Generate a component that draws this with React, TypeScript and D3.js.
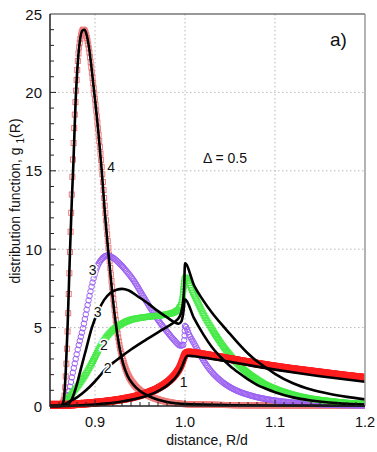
import { useEffect, useRef } from 'react';
import * as d3 from 'd3';

type Pt = [number, number];

// curve 4: simulation (open squares) and theory (black line)
const sim4: Pt[] = [
  [0.85, 0.02], [0.862, 0.05], [0.8655, 0.4], [0.868, 2.5], [0.8705, 6.5], [0.8728, 11.0],
  [0.8748, 14.5], [0.8768, 17.6], [0.879, 20.2], [0.8815, 22.4], [0.884, 23.5], [0.887, 24.0],
  [0.8895, 23.8], [0.892, 23.2], [0.8975, 20.8], [0.9035, 17.6], [0.9075, 15.2], [0.9115, 12.3],
  [0.9155, 9.7], [0.9195, 7.3], [0.9235, 5.3], [0.9275, 3.8], [0.932, 2.75], [0.937, 1.95],
  [0.943, 1.4], [0.951, 0.95], [0.961, 0.62], [0.971, 0.4], [0.981, 0.26], [0.991, 0.17],
  [1.0, 0.12], [1.05, 0.06], [1.1, 0.04], [1.2, 0.03],
];
const theory4: Pt[] = [
  [0.85, 0], [0.862, 0.02], [0.865, 0.3], [0.8675, 2.2], [0.8695, 5.0], [0.8723, 10.0],
  [0.8743, 13.2], [0.876, 15.5], [0.8785, 19.5], [0.881, 22.0], [0.8835, 23.4], [0.886, 23.95],
  [0.8885, 24.0], [0.891, 23.6], [0.893, 23.0], [0.898, 20.6], [0.904, 17.3], [0.9075, 15.0],
  [0.911, 12.3], [0.915, 9.7], [0.919, 7.3], [0.923, 5.3], [0.927, 3.8], [0.931, 2.75],
  [0.936, 1.95], [0.942, 1.4], [0.95, 0.95], [0.96, 0.62], [0.97, 0.4], [0.98, 0.26],
  [0.99, 0.17], [1.0, 0.12], [1.05, 0.05], [1.1, 0.03], [1.2, 0.02],
];

// curve 3: simulation (open circles) and theory
const sim3: Pt[] = [
  [0.864, 0], [0.868, 0.35], [0.872, 1.2], [0.876, 2.3], [0.8816, 3.8], [0.887, 5.06],
  [0.892, 6.5], [0.897, 7.8], [0.902, 8.8], [0.908, 9.4], [0.914, 9.6], [0.92, 9.45],
  [0.928, 9.05], [0.935, 8.6], [0.943, 8.0], [0.952, 7.15], [0.961, 6.3], [0.97, 5.5],
  [0.98, 4.75], [0.988, 4.2], [0.995, 3.85], [0.998, 3.9], [0.9995, 4.4], [1.0, 5.1],
  [1.005, 4.5], [1.01, 4.0], [1.02, 2.95], [1.03, 2.15], [1.04, 1.6], [1.05, 1.2],
  [1.06, 0.92], [1.07, 0.72], [1.08, 0.56], [1.09, 0.44], [1.1, 0.35], [1.12, 0.22],
  [1.14, 0.14], [1.16, 0.08], [1.18, 0.05], [1.2, 0.03],
];
const theory3: Pt[] = [
  [0.85, 0], [0.866, 0.02], [0.87, 0.1], [0.874, 0.4], [0.879, 1.2], [0.884, 2.3],
  [0.89, 3.6], [0.8965, 5.0], [0.904, 6.1], [0.91, 6.75], [0.917, 7.2], [0.924, 7.42],
  [0.93, 7.47], [0.937, 7.38], [0.948, 6.97], [0.96, 6.5], [0.97, 6.05], [0.98, 5.65],
  [0.988, 5.35], [0.993, 5.25], [0.996, 5.4], [0.998, 5.9], [1.0, 6.8], [1.01, 5.6],
  [1.02, 4.6], [1.03, 3.75], [1.04, 3.1], [1.05, 2.55], [1.06, 2.1], [1.07, 1.7],
  [1.08, 1.35], [1.09, 1.1], [1.1, 0.88], [1.12, 0.55], [1.14, 0.35], [1.16, 0.22],
  [1.18, 0.14], [1.2, 0.09],
];

// curve 2: simulation (open squares) and theory
const sim2: Pt[] = [
  [0.85, 0.05], [0.862, 0.06], [0.866, 0.15], [0.87, 0.45], [0.876, 0.9], [0.883, 1.45],
  [0.891, 2.15], [0.898, 2.9], [0.905, 3.7], [0.912, 4.35], [0.92, 4.85], [0.93, 5.25],
  [0.94, 5.5], [0.95, 5.62], [0.96, 5.7], [0.97, 5.76], [0.98, 5.85], [0.988, 5.98],
  [0.993, 6.2], [0.997, 6.8], [1.0, 8.2], [1.01, 7.1], [1.02, 5.9], [1.03, 4.9],
  [1.04, 4.0], [1.05, 3.25], [1.06, 2.6], [1.07, 2.1], [1.08, 1.7], [1.09, 1.35],
  [1.1, 1.1], [1.12, 0.72], [1.14, 0.47], [1.16, 0.32], [1.18, 0.2], [1.2, 0.13],
];
const theory2: Pt[] = [
  [0.85, 0], [0.862, 0.01], [0.866, 0.1], [0.872, 0.3], [0.88, 0.55], [0.89, 1.0],
  [0.898, 1.45], [0.905, 1.9], [0.911, 2.3], [0.92, 2.75], [0.928, 3.1], [0.94, 3.6],
  [0.956, 4.2], [0.97, 4.7], [0.98, 5.05], [0.988, 5.35], [0.994, 5.7], [0.997, 6.3],
  [0.999, 7.5], [1.0, 9.1], [1.01, 7.7], [1.02, 6.75], [1.03, 5.95], [1.04, 5.25],
  [1.05, 4.6], [1.06, 3.95], [1.07, 3.35], [1.08, 2.85], [1.09, 2.45], [1.1, 2.05],
  [1.12, 1.45], [1.14, 1.05], [1.16, 0.78], [1.18, 0.58], [1.2, 0.42],
];

// curve 1: simulation (open circles) and theory
const sim1: Pt[] = [
  [0.85, 0.08], [0.87, 0.08], [0.88, 0.12], [0.89, 0.16], [0.9, 0.21], [0.91, 0.27],
  [0.92, 0.34], [0.93, 0.43], [0.94, 0.54], [0.95, 0.69], [0.96, 0.88], [0.97, 1.13],
  [0.98, 1.5], [0.985, 1.75], [0.99, 2.08], [0.995, 2.55], [0.998, 3.0], [1.0, 3.3],
  [1.003, 3.42], [1.01, 3.38], [1.03, 3.2], [1.05, 3.0], [1.075, 2.75], [1.1, 2.52],
  [1.125, 2.32], [1.15, 2.14], [1.175, 1.96], [1.2, 1.8],
];
const theory1: Pt[] = [
  [0.85, 0], [0.87, 0.01], [0.88, 0.03], [0.89, 0.06], [0.9, 0.1], [0.91, 0.15],
  [0.92, 0.21], [0.93, 0.29], [0.94, 0.39], [0.95, 0.52], [0.96, 0.7], [0.97, 0.95],
  [0.98, 1.3], [0.985, 1.55], [0.99, 1.85], [0.995, 2.3], [0.998, 2.7], [1.0, 3.0],
  [1.003, 3.2], [1.01, 3.17], [1.03, 3.0], [1.05, 2.82], [1.075, 2.56], [1.1, 2.32],
  [1.125, 2.1], [1.15, 1.9], [1.175, 1.72], [1.2, 1.55],
];

const xTicks = [0.9, 1.0, 1.1, 1.2];
const yTicks = [0, 5, 10, 15, 20, 25];
const curveLabels = [
  { text: '4', x: 0.918, y: 14.9 },
  { text: '3', x: 0.8974, y: 8.35 },
  { text: '3', x: 0.903, y: 5.68 },
  { text: '2', x: 0.91, y: 3.57 },
  { text: '2', x: 0.914, y: 2.1 },
  { text: '1', x: 0.9986, y: 1.2 },
];

const W = 377;
const H = 452;
const FONT = 'Liberation Sans, Arial, sans-serif';

// walk along a drawn path and drop marker positions every sx px in x or sa px along the path
function along(path: SVGPathElement, sx: number, sa: number): Pt[] {
  const total = path.getTotalLength();
  let last = path.getPointAtLength(0);
  const out: Pt[] = [[last.x, last.y]];
  for (let l = 0.25; l <= total; l += 0.25) {
    const q = path.getPointAtLength(l);
    if (Math.abs(q.x - last.x) >= sx || Math.hypot(q.x - last.x, q.y - last.y) >= sa) {
      out.push([q.x, q.y]);
      last = q;
    }
  }
  return out;
}

function Chart() {
  const ref = useRef<SVGSVGElement>(null);

  useEffect(() => {
    const svg = d3.select(ref.current);
    svg.selectAll('*').remove();

    const x = d3.scaleLinear().domain([0.85, 1.2]).range([50, 365]);
    const y = d3.scaleLinear().domain([0, 25]).range([406, 14]);

    svg.append('defs').append('clipPath').attr('id', 'plot')
      .append('rect').attr('x', 50).attr('y', 10).attr('width', 315).attr('height', 402);

    // grid
    const grid = svg.append('g').attr('stroke', '#b8b8b8').attr('stroke-width', 1)
      .attr('stroke-dasharray', '1.5 2.5');
    [0.9, 1.0, 1.1].forEach(v => {
      grid.append('line').attr('x1', x(v)).attr('x2', x(v)).attr('y1', y(25)).attr('y2', y(0));
    });
    [5, 10, 15, 20].forEach(v => {
      grid.append('line').attr('x1', x(0.85)).attr('x2', x(1.2)).attr('y1', y(v)).attr('y2', y(v));
    });

    const line = d3.line<Pt>().x(d => x(d[0])).y(d => y(d[1])).curve(d3.curveMonotoneX);
    const plot = svg.append('g').attr('clip-path', 'url(#plot)');

    const markers = (data: Pt[], kind: 'square' | 'circle', color: string, size: number,
      sw: number, sx: number, sa: number) => {
      const p = plot.append('path').attr('d', line(data)).attr('fill', 'none').attr('stroke', 'none');
      const pts = along(p.node() as SVGPathElement, sx, sa);
      p.remove();
      const g = plot.append('g').attr('fill', 'none').attr('stroke', color).attr('stroke-width', sw);
      if (kind === 'square') {
        g.selectAll('rect').data(pts).join('rect')
          .attr('x', d => d[0] - size / 2).attr('y', d => d[1] - size / 2)
          .attr('width', size).attr('height', size);
      } else {
        g.selectAll('circle').data(pts).join('circle')
          .attr('cx', d => d[0]).attr('cy', d => d[1]).attr('r', size / 2);
      }
    };

    markers(sim4, 'square', '#f07a7a', 5, 1, 0.6, 26);
    markers(sim3, 'circle', '#9d62f2', 5.5, 1, 1, 4.5);
    markers(sim2, 'square', '#45ea45', 5, 1, 0.9, 3);
    markers(sim1, 'circle', '#ff1e1e', 6.5, 1.5, 0.8, 3);

    [theory4, theory3, theory2, theory1].forEach(d => {
      plot.append('path').attr('d', line(d)).attr('fill', 'none')
        .attr('stroke', '#000').attr('stroke-width', 2.6).attr('stroke-linejoin', 'round');
    });

    // minor ticks
    const ticks = svg.append('g').attr('stroke', '#222').attr('stroke-width', 1);
    d3.range(1, 25).forEach(v => {
      ticks.append('line').attr('x1', 50).attr('x2', v % 5 ? 54 : 56).attr('y1', y(v)).attr('y2', y(v));
    });
    d3.range(86, 120).forEach(i => {
      const v = i / 100;
      ticks.append('line').attr('x1', x(v)).attr('x2', x(v)).attr('y1', 406)
        .attr('y2', i % 10 ? 402 : 400);
    });

    // frame
    svg.append('line').attr('x1', 50).attr('x2', 365).attr('y1', 14).attr('y2', 14)
      .attr('stroke', '#333').attr('stroke-width', 1);
    svg.append('line').attr('x1', 365).attr('x2', 365).attr('y1', 14).attr('y2', 406)
      .attr('stroke', '#9a9a9a').attr('stroke-width', 1.5);
    svg.append('line').attr('x1', 50).attr('x2', 50).attr('y1', 14).attr('y2', 406.5)
      .attr('stroke', '#222').attr('stroke-width', 1.5);
    svg.append('line').attr('x1', 49.5).attr('x2', 365).attr('y1', 406).attr('y2', 406)
      .attr('stroke', '#222').attr('stroke-width', 1.5);

    // tick labels
    svg.append('g').selectAll('text').data(yTicks).join('text')
      .attr('x', 42).attr('y', d => y(d) + 5.5).attr('text-anchor', 'end')
      .attr('font-family', FONT).attr('font-size', 15).attr('fill', '#111')
      .text(d => String(d));
    svg.append('g').selectAll('text').data(xTicks).join('text')
      .attr('x', d => x(d)).attr('y', 427).attr('text-anchor', 'middle')
      .attr('font-family', FONT).attr('font-size', 14.5).attr('fill', '#111')
      .text(d => d.toFixed(1));

    // axis titles
    svg.append('text').attr('x', 207).attr('y', 445).attr('text-anchor', 'middle')
      .attr('font-family', FONT).attr('font-size', 14).attr('fill', '#111')
      .text('distance, R/d');
    const yt = svg.append('text').attr('transform', 'translate(20,201) rotate(-90)')
      .attr('text-anchor', 'middle').attr('font-family', FONT).attr('font-size', 14)
      .attr('fill', '#111');
    yt.append('tspan').text('distribution function, g ');
    yt.append('tspan').attr('font-size', 10).attr('dy', 4).text('1');
    yt.append('tspan').attr('dy', -4).text('(R)');

    svg.append('text').attr('x', 330).attr('y', 46).attr('font-family', FONT)
      .attr('font-size', 19).attr('fill', '#111').text('a)');
    svg.append('text').attr('x', 203).attr('y', 163).attr('font-family', FONT)
      .attr('font-size', 14).attr('fill', '#111').text('Δ = 0.5');

    svg.append('g').selectAll('text').data(curveLabels).join('text')
      .attr('x', d => x(d.x)).attr('y', d => y(d.y)).attr('text-anchor', 'middle')
      .attr('font-family', FONT).attr('font-size', 14).attr('fill', '#111')
      .attr('stroke', '#fff').attr('stroke-width', 3).attr('paint-order', 'stroke')
      .text(d => d.text);

    return () => { svg.selectAll('*').remove(); };
  }, []);

  return (
    <svg ref={ref} width={W} height={H} viewBox={`0 0 ${W} ${H}`}
      style={{ position: 'absolute', left: 0, top: 0, background: '#fff' }} />
  );
}

export default function App() {
  return <Chart />;
}
